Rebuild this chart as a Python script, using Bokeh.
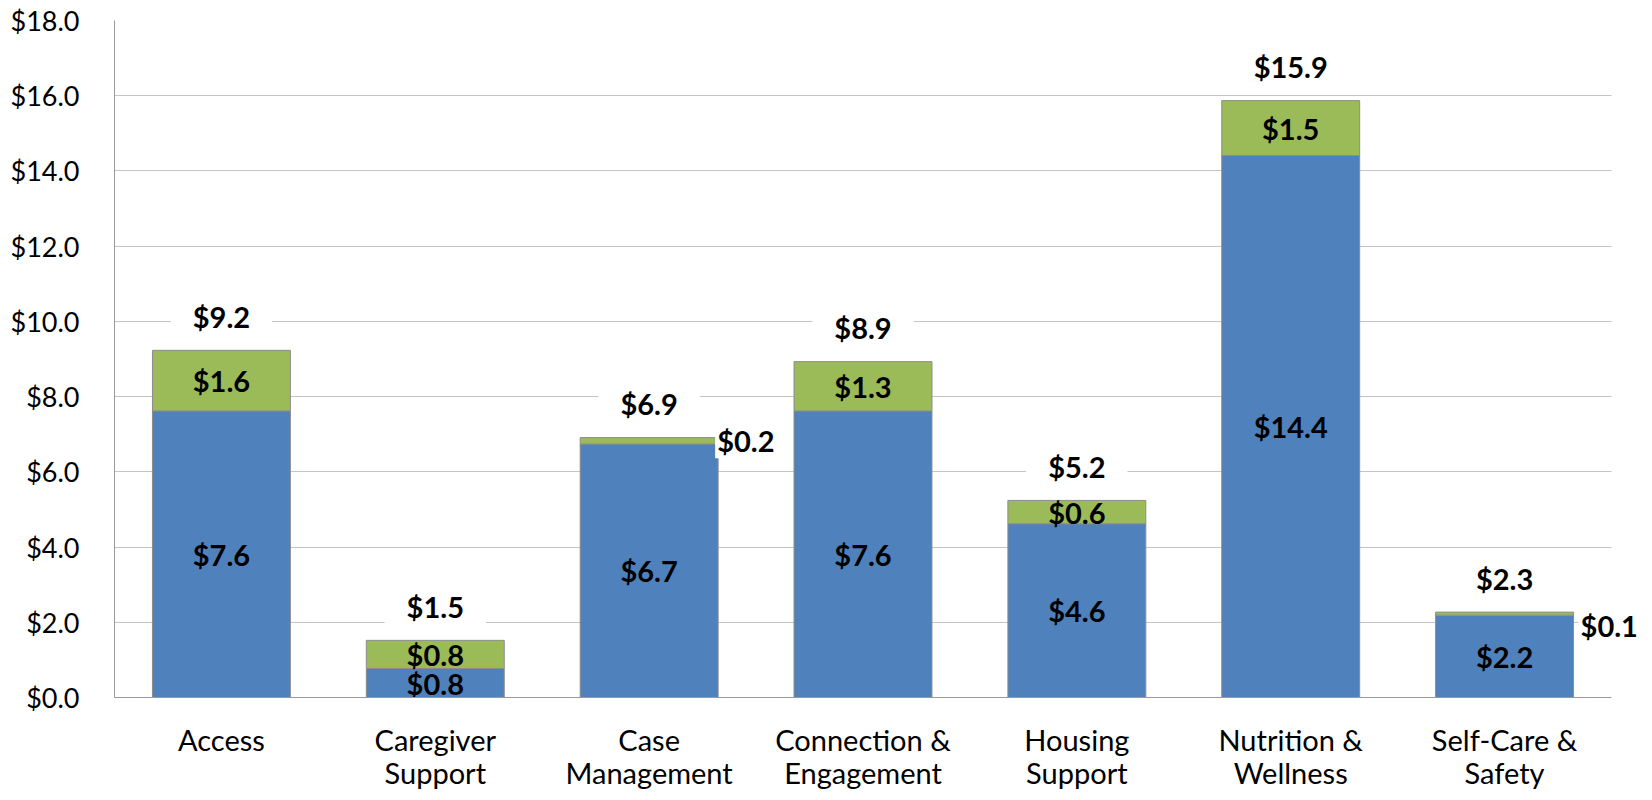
from bokeh.plotting import figure
from bokeh.models import (Range1d, NumeralTickFormatter, SingleIntervalTicker, FixedTicker,
                          ColumnDataSource)
from bokeh.core.properties import value
from bokeh.embed import file_html
from bokeh.resources import INLINE

categories = ["Access", "Caregiver\nSupport", "Case\nManagement", "Connection &\nEngagement",
              "Housing\nSupport", "Nutrition &\nWellness", "Self-Care &\nSafety"]
base_values = [7.62, 0.77, 6.74, 7.62, 4.62, 14.41, 2.19]
extra_values = [1.61, 0.75, 0.17, 1.31, 0.62, 1.46, 0.08]
outside_label_index = [2, 6]   # segments too thin for an inside label
outside_x_offset = [66, 74]
outside_y_offset = [0, 12]

BLUE = "#4F81BD"
GREEN = "#9BBB59"
FONT = "Lato"
LBL_SIZE = "29px"

n = len(categories)
idx = list(range(n))
totals = [b + e for b, e in zip(base_values, extra_values)]
fmt = lambda v: "${:.1f}".format(v)

src = ColumnDataSource(dict(
    x=idx, base=base_values, extra=extra_values, total=totals,
    base_mid=[b / 2 for b in base_values],
    base_lbl=[fmt(v) for v in base_values],
    total_lbl=[fmt(v) for v in totals],
))

# plot frame spans 114..1644 px; categories occupy 114..1611 px (extra room on the right
# lets the "$0.1" label overflow the category area as in the reference)
FRAME_W, CAT_W = 1530, 1497
x_end = -0.5 + n * FRAME_W / CAT_W

p = figure(width=1644, height=792, x_range=Range1d(-0.5, x_end), y_range=Range1d(0, 18),
           output_backend="svg", toolbar_location=None,
           min_border_left=114, min_border_right=0, min_border_top=20, min_border_bottom=93)
p.outline_line_color = None
p.background_fill_color = "white"

p.vbar_stack(["base", "extra"], x="x", width=0.645, source=src,
             color=[BLUE, GREEN], line_color="#8c8c8c", line_width=1)

# inside labels
p.text(x="x", y="base_mid", text="base_lbl", source=src, text_align="center",
       text_baseline="middle", text_font=value(FONT), text_font_style="bold",
       text_font_size=LBL_SIZE, text_color="black")
inside = [i for i in idx if i not in outside_label_index]
src_in = ColumnDataSource(dict(
    x=inside,
    y=[base_values[i] + extra_values[i] / 2 for i in inside],
    lbl=[fmt(extra_values[i]) for i in inside]))
p.text(x="x", y="y", text="lbl", source=src_in, text_align="center",
       text_baseline="middle", text_font=value(FONT), text_font_style="bold",
       text_font_size=LBL_SIZE, text_color="black")

# total labels
p.text(x="x", y="total", text="total_lbl", source=src, y_offset=-34,
       text_align="center", text_baseline="middle", text_font=value(FONT),
       text_font_style="bold", text_font_size=LBL_SIZE, text_color="black",
       background_fill_color="white", padding=dict(left=22, right=22, top=0, bottom=0))

# outside labels for thin segments
src_out = ColumnDataSource(dict(
    x=outside_label_index,
    y=[base_values[i] + extra_values[i] / 2 for i in outside_label_index],
    lbl=[fmt(extra_values[i]) for i in outside_label_index],
    xo=outside_x_offset, yo=outside_y_offset))
p.text(x="x", y="y", text="lbl", source=src_out, x_offset="xo", y_offset="yo",
       text_align="left", text_baseline="middle", text_font=value(FONT),
       text_font_style="bold", text_font_size=LBL_SIZE, text_color="black",
       background_fill_color="white", padding=dict(left=2, right=2, top=0, bottom=0))

p.yaxis.ticker = SingleIntervalTicker(interval=2)
p.yaxis.formatter = NumeralTickFormatter(format="$0.0")
p.xaxis.ticker = FixedTicker(ticks=idx)
p.xaxis.major_label_overrides = {i: c for i, c in zip(idx, categories)}
p.xaxis.bounds = (-0.5, n - 0.5)
for ax in (p.xaxis, p.yaxis):
    ax.axis_line_color = "#999999"
    ax.axis_line_width = 1
    ax.major_tick_line_color = None
    ax.minor_tick_line_color = None
    ax.major_label_text_font = FONT
    ax.major_label_text_color = "black"
p.yaxis.major_label_text_font_size = "27px"
p.yaxis.major_label_standoff = 29
p.xaxis.major_label_text_font_size = "29px"
p.xaxis.major_label_text_line_height = 0.95
p.xaxis.major_label_standoff = 18
p.xgrid.grid_line_color = None
p.ygrid.grid_line_color = "#c4c4c4"
p.ygrid.grid_line_width = 1
try:
    p.ygrid.cross_bounds = (-0.5, n - 0.5)
except AttributeError:
    p.ygrid.grid_line_color = None
    ticks = list(range(2, 19, 2))
    p.segment(x0=[-0.5] * len(ticks), x1=[n - 0.5] * len(ticks), y0=ticks, y1=ticks,
              line_color="#c4c4c4", line_width=1, level="underlay")

open("out.html", "w").write(file_html(p, INLINE))
